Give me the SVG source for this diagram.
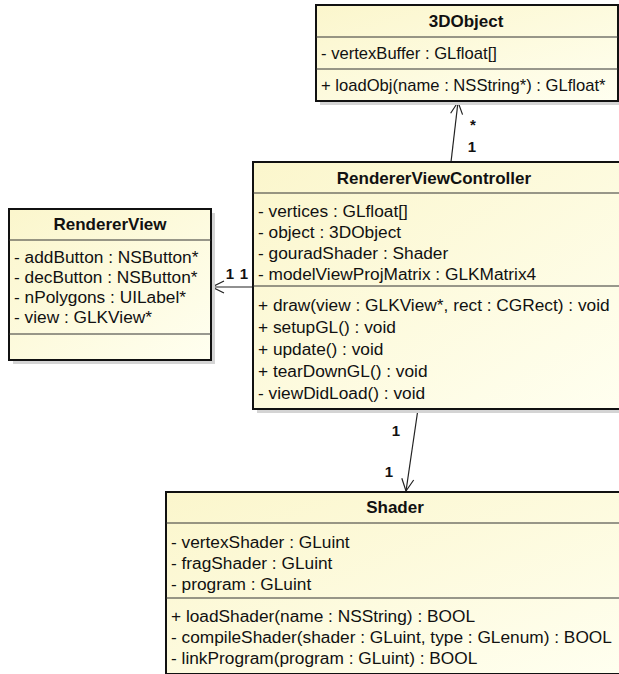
<svg xmlns="http://www.w3.org/2000/svg" width="619" height="674" viewBox="0 0 619 674">
<defs>
<linearGradient id="fill" x1="0" y1="0" x2="1" y2="1">
<stop offset="0" stop-color="#FBF6CC"/>
<stop offset="1" stop-color="#FFFFF0"/>
</linearGradient>
<marker id="open" viewBox="0 0 14 14" refX="13" refY="7" markerWidth="14" markerHeight="14" markerUnits="userSpaceOnUse" orient="auto">
<path d="M1,1 L13,7 L1,13" fill="none" stroke="#222" stroke-width="1.2"/>
</marker>
<style>
.shadow{fill:#d4d4d4}
.box{fill:url(#fill);stroke:#111;stroke-width:2}
.sep{stroke:#333;stroke-width:1}
.t{font-family:"Liberation Sans",Arial,sans-serif;font-size:17.3px;fill:#111}
.s{font-size:16.6px}
.title{font-family:"Liberation Sans",Arial,sans-serif;font-size:17px;font-weight:bold;fill:#111;text-anchor:middle}
.lbl{font-family:"Liberation Sans",Arial,sans-serif;font-size:15px;font-weight:bold;fill:#111;text-anchor:middle}
.conn{stroke:#222;stroke-width:1.2;fill:none}
</style>
</defs>
<rect width="619" height="674" fill="#fff"/>

<g id="connectors">
<line class="conn" x1="451" y1="162" x2="458" y2="102" marker-end="url(#open)"/>
<line class="conn" x1="253" y1="287" x2="212" y2="287" marker-end="url(#open)"/>
<line class="conn" x1="418" y1="409" x2="406" y2="491" marker-end="url(#open)"/>
<text class="lbl" x="473" y="130">*</text>
<text class="lbl" x="472" y="152">1</text>
<text class="lbl" x="230" y="279">1</text>
<text class="lbl" x="244" y="279">1</text>
<text class="lbl" x="396" y="436">1</text>
<text class="lbl" x="389" y="477">1</text>
</g>

<g id="node-3DObject">
<rect class="shadow" x="320" y="9" width="302" height="96"/>
<rect class="box" x="316" y="5" width="302" height="96"/>
<line class="sep" x1="316" y1="37" x2="618" y2="37"/>
<line class="sep" x1="316" y1="69" x2="618" y2="69"/>
<text class="title" x="466" y="27">3DObject</text>
<text class="t s" x="321" y="59">- vertexBuffer : GLfloat[]</text>
<text class="t s" x="321" y="91">+ loadObj(name : NSString*) : GLfloat*</text>
</g>

<g id="node-RendererView">
<rect class="shadow" x="13" y="213" width="202" height="151"/>
<rect class="box" x="9" y="209" width="202" height="151"/>
<line class="sep" x1="9" y1="240" x2="211" y2="240"/>
<line class="sep" x1="9" y1="334" x2="211" y2="334"/>
<text class="title" x="110" y="230">RendererView</text>
<text class="t" x="14" y="263">- addButton : NSButton*</text>
<text class="t" x="14" y="283">- decButton : NSButton*</text>
<text class="t" x="14" y="303">- nPolygons : UILabel*</text>
<text class="t" x="14" y="323">- view : GLKView*</text>
</g>

<g id="node-RendererViewController">
<rect class="shadow" x="257" y="166" width="370" height="247"/>
<rect class="box" x="253" y="162" width="370" height="247"/>
<line class="sep" x1="253" y1="193" x2="623" y2="193"/>
<line class="sep" x1="253" y1="286" x2="623" y2="286"/>
<text class="title" x="434" y="184">RendererViewController</text>
<text class="t" x="258" y="217">- vertices : GLfloat[]</text>
<text class="t" x="258" y="238">- object : 3DObject</text>
<text class="t" x="258" y="259">- gouradShader : Shader</text>
<text class="t" x="258" y="280">- modelViewProjMatrix : GLKMatrix4</text>
<text class="t" x="258" y="311">+ draw(view : GLKView*, rect : CGRect) : void</text>
<text class="t" x="258" y="333">+ setupGL() : void</text>
<text class="t" x="258" y="355">+ update() : void</text>
<text class="t" x="258" y="377">+ tearDownGL() : void</text>
<text class="t" x="258" y="399">- viewDidLoad() : void</text>
</g>

<g id="node-Shader">
<rect class="shadow" x="170" y="496" width="460" height="182"/>
<rect class="box" x="166" y="492" width="460" height="182"/>
<line class="sep" x1="166" y1="523" x2="626" y2="523"/>
<line class="sep" x1="166" y1="598" x2="626" y2="598"/>
<text class="title" x="395" y="513">Shader</text>
<text class="t" x="171" y="548">- vertexShader : GLuint</text>
<text class="t" x="171" y="569">- fragShader : GLuint</text>
<text class="t" x="171" y="590">- program : GLuint</text>
<text class="t" x="171" y="622">+ loadShader(name : NSString) : BOOL</text>
<text class="t" x="171" y="643">- compileShader(shader : GLuint, type : GLenum) : BOOL</text>
<text class="t" x="171" y="664">- linkProgram(program : GLuint) : BOOL</text>
</g>
</svg>
